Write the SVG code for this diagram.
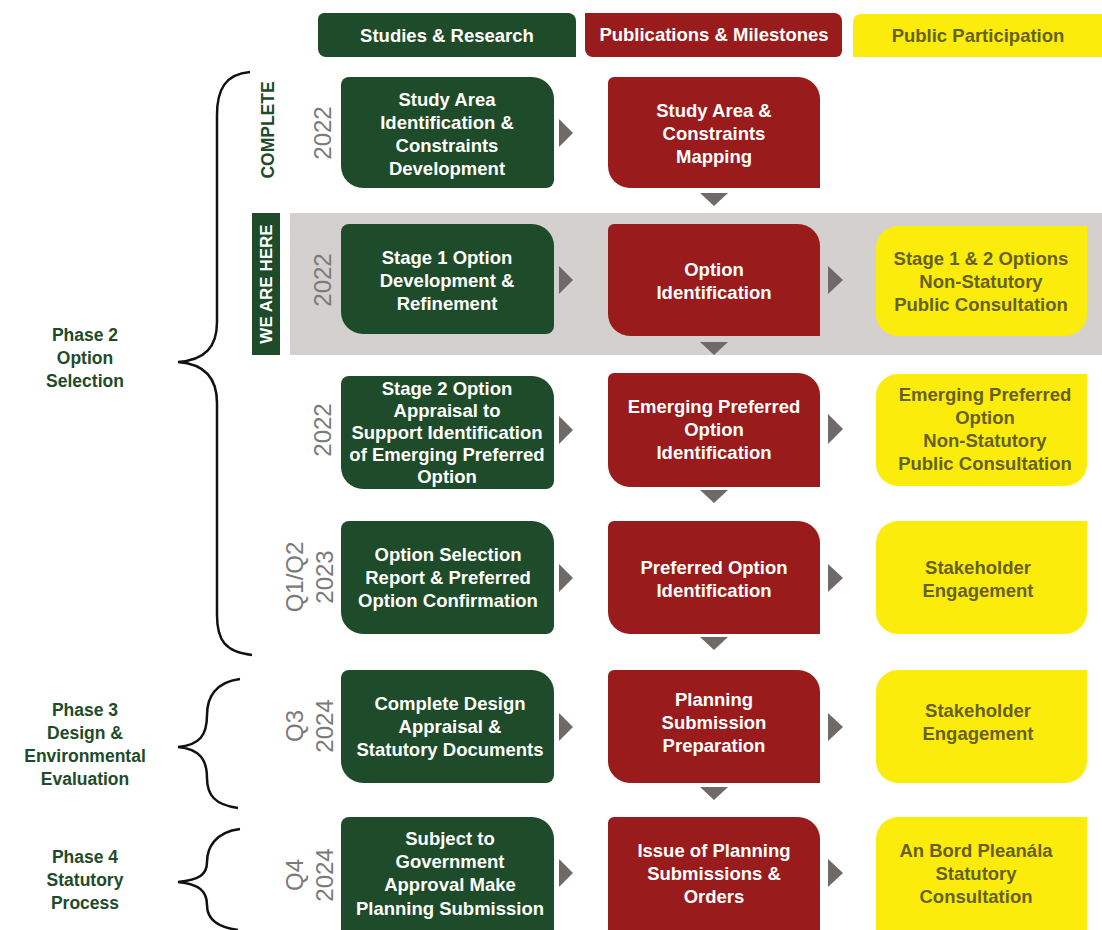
<svg xmlns="http://www.w3.org/2000/svg" width="1102" height="930" viewBox="0 0 1102 930">
<style>
text{font-family:"Liberation Sans",Arial,sans-serif;font-weight:bold;text-anchor:middle}
.g{fill:#1e4b29}.r{fill:#9a1b1b}.y{fill:#fcec0c}
.wt{fill:#ffffff;font-size:18.5px}
.yt{fill:#66611f;font-size:18.5px}
.ht{font-size:18.5px}
.yr{fill:#7a7a7a;font-weight:normal;font-size:24px}
.ph{fill:#1e4b29;font-size:17.5px}
.arr{fill:#6f6a67}
.br{fill:none;stroke:#111;stroke-width:2.5}
</style>
<rect width="1102" height="930" fill="#ffffff"/>

<g id="headers">
<path class="g" d="M324,13 H568 A8 8 0 0 1 576,21 V57 H326 A8 8 0 0 1 318,49 V19 A6 6 0 0 1 324,13 Z"/>
<text class="wt ht" x="447" y="42">Studies &amp; Research</text>
<path class="r" d="M585,13 H834 A8 8 0 0 1 842,21 V51 A6 6 0 0 1 836,57 H593 A8 8 0 0 1 585,49 Z"/>
<text class="wt ht" x="714" y="41">Publications &amp; Milestones</text>
<path class="y" d="M861,14 H1102 V57 H853 V22 A8 8 0 0 1 861,14 Z"/>
<text class="yt ht" x="978" y="42">Public Participation</text>
</g>

<g id="band">
<rect x="290" y="213" width="812" height="142" fill="#d3d0cd"/>
<rect x="252" y="213" width="28" height="142" fill="#1e4b29"/>
<text transform="translate(266,284) rotate(-90)" dominant-baseline="central" fill="#ffffff" font-size="17">WE ARE HERE</text>
<text transform="translate(268,130) rotate(-90)" dominant-baseline="central" fill="#1e4b29" font-size="17.5">COMPLETE</text>
</g>

<g id="phases">
<path class="br" d="M250,72 C225,74 217,90 217,115 L217,322 C217,347 205,360 178,362 C205,364 217,378 217,403 L217,615 C217,640 225,652 252,655"/>
<text class="ph"><tspan x="85" y="341">Phase 2</tspan><tspan x="85" y="364">Option</tspan><tspan x="85" y="387">Selection</tspan></text>
<path class="br" d="M240,679 C215,682 207,698 207,715 C207,735 200,745 178,747 C200,749 207,760 207,778 C207,795 215,805 238,808"/>
<text class="ph"><tspan x="85" y="716">Phase 3</tspan><tspan x="85" y="739">Design &amp;</tspan><tspan x="85" y="762">Environmental</tspan><tspan x="85" y="785">Evaluation</tspan></text>
<path class="br" d="M240,829 C215,832 207,848 207,862 C207,874 200,880 178,882 C200,884 207,892 207,905 C207,918 215,927 238,930"/>
<text class="ph"><tspan x="85" y="863">Phase 4</tspan><tspan x="85" y="886">Statutory</tspan><tspan x="85" y="909">Process</tspan></text>
</g>

<g id="years">
<text class="yr" transform="translate(322,133) rotate(-90)" dominant-baseline="central">2022</text>
<text class="yr" transform="translate(322,280) rotate(-90)" dominant-baseline="central">2022</text>
<text class="yr" transform="translate(322,430) rotate(-90)" dominant-baseline="central">2022</text>
<text class="yr" transform="translate(310,577) rotate(-90)"><tspan x="0" y="-7">Q1/Q2</tspan><tspan x="0" y="23">2023</tspan></text>
<text class="yr" transform="translate(310,726) rotate(-90)"><tspan x="0" y="-7">Q3</tspan><tspan x="0" y="23">2024</tspan></text>
<text class="yr" transform="translate(310,875) rotate(-90)"><tspan x="0" y="-7">Q4</tspan><tspan x="0" y="23">2024</tspan></text>
</g>

<g id="row1">
<g id="n-study-area-dev">
<path class="g" d="M349,77 H532 A22 22 0 0 1 554,99 V180 A8 8 0 0 1 546,188 H363 A22 22 0 0 1 341,166 V85 A8 8 0 0 1 349,77 Z"/>
<text class="wt"><tspan x="447" y="106">Study Area</tspan><tspan x="447" y="129">Identification &amp;</tspan><tspan x="447" y="152">Constraints</tspan><tspan x="447" y="175">Development</tspan></text>
</g>
<g id="n-study-area-map">
<path class="r" d="M614,77 H798 A22 22 0 0 1 820,99 V188 H630 A22 22 0 0 1 608,166 V83 A6 6 0 0 1 614,77 Z"/>
<text class="wt"><tspan x="714" y="117">Study Area &amp;</tspan><tspan x="714" y="140">Constraints</tspan><tspan x="714" y="163">Mapping</tspan></text>
</g>
</g>

<g id="row2">
<g id="n-stage1">
<path class="g" d="M349,224 H532 A22 22 0 0 1 554,246 V326 A8 8 0 0 1 546,334 H363 A22 22 0 0 1 341,312 V232 A8 8 0 0 1 349,224 Z"/>
<text class="wt"><tspan x="447" y="264">Stage 1 Option</tspan><tspan x="447" y="287">Development &amp;</tspan><tspan x="447" y="310">Refinement</tspan></text>
</g>
<g id="n-option-id">
<path class="r" d="M614,224 H798 A22 22 0 0 1 820,246 V336 H630 A22 22 0 0 1 608,314 V230 A6 6 0 0 1 614,224 Z"/>
<text class="wt"><tspan x="714" y="276">Option</tspan><tspan x="714" y="299">Identification</tspan></text>
</g>
<g id="n-stage12-consult">
<path class="y" d="M898,226 H1087 V314 A22 22 0 0 1 1065,336 H898 A22 22 0 0 1 876,314 V248 A22 22 0 0 1 898,226 Z"/>
<text class="yt"><tspan x="981" y="265">Stage 1 &amp; 2 Options</tspan><tspan x="981" y="288">Non-Statutory</tspan><tspan x="981" y="311">Public Consultation</tspan></text>
</g>
</g>

<g id="row3">
<g id="n-stage2">
<path class="g" d="M349,376 H532 A22 22 0 0 1 554,398 V481 A8 8 0 0 1 546,489 H363 A22 22 0 0 1 341,467 V384 A8 8 0 0 1 349,376 Z"/>
<text class="wt"><tspan x="447" y="395">Stage 2 Option</tspan><tspan x="447" y="417">Appraisal to</tspan><tspan x="447" y="439">Support Identification</tspan><tspan x="447" y="461">of Emerging Preferred</tspan><tspan x="447" y="483">Option</tspan></text>
</g>
<g id="n-epo-id">
<path class="r" d="M614,373 H798 A22 22 0 0 1 820,395 V487 H630 A22 22 0 0 1 608,465 V379 A6 6 0 0 1 614,373 Z"/>
<text class="wt"><tspan x="714" y="413">Emerging Preferred</tspan><tspan x="714" y="436">Option</tspan><tspan x="714" y="459">Identification</tspan></text>
</g>
<g id="n-epo-consult">
<path class="y" d="M898,374 H1087 V464 A22 22 0 0 1 1065,486 H898 A22 22 0 0 1 876,464 V396 A22 22 0 0 1 898,374 Z"/>
<text class="yt"><tspan x="985" y="401">Emerging Preferred</tspan><tspan x="985" y="424">Option</tspan><tspan x="985" y="447">Non-Statutory</tspan><tspan x="985" y="470">Public Consultation</tspan></text>
</g>
</g>

<g id="row4">
<g id="n-osr">
<path class="g" d="M349,521 H532 A22 22 0 0 1 554,543 V626 A8 8 0 0 1 546,634 H363 A22 22 0 0 1 341,612 V529 A8 8 0 0 1 349,521 Z"/>
<text class="wt"><tspan x="448" y="561">Option Selection</tspan><tspan x="448" y="584">Report &amp; Preferred</tspan><tspan x="448" y="607">Option Confirmation</tspan></text>
</g>
<g id="n-po-id">
<path class="r" d="M614,521 H798 A22 22 0 0 1 820,543 V634 H630 A22 22 0 0 1 608,612 V527 A6 6 0 0 1 614,521 Z"/>
<text class="wt"><tspan x="714" y="574">Preferred Option</tspan><tspan x="714" y="597">Identification</tspan></text>
</g>
<g id="n-stake1">
<path class="y" d="M898,521 H1087 V612 A22 22 0 0 1 1065,634 H898 A22 22 0 0 1 876,612 V543 A22 22 0 0 1 898,521 Z"/>
<text class="yt"><tspan x="978" y="574">Stakeholder</tspan><tspan x="978" y="597">Engagement</tspan></text>
</g>
</g>

<g id="row5">
<g id="n-design">
<path class="g" d="M349,670 H532 A22 22 0 0 1 554,692 V775 A8 8 0 0 1 546,783 H363 A22 22 0 0 1 341,761 V678 A8 8 0 0 1 349,670 Z"/>
<text class="wt"><tspan x="450" y="710">Complete Design</tspan><tspan x="450" y="733">Appraisal &amp;</tspan><tspan x="450" y="756">Statutory Documents</tspan></text>
</g>
<g id="n-planning-prep">
<path class="r" d="M614,670 H798 A22 22 0 0 1 820,692 V783 H630 A22 22 0 0 1 608,761 V676 A6 6 0 0 1 614,670 Z"/>
<text class="wt"><tspan x="714" y="706">Planning</tspan><tspan x="714" y="729">Submission</tspan><tspan x="714" y="752">Preparation</tspan></text>
</g>
<g id="n-stake2">
<path class="y" d="M898,670 H1087 V761 A22 22 0 0 1 1065,783 H898 A22 22 0 0 1 876,761 V692 A22 22 0 0 1 898,670 Z"/>
<text class="yt"><tspan x="978" y="717">Stakeholder</tspan><tspan x="978" y="740">Engagement</tspan></text>
</g>
</g>

<g id="row6">
<g id="n-subject">
<path class="g" d="M349,817 H532 A22 22 0 0 1 554,839 V940 H341 V825 A8 8 0 0 1 349,817 Z"/>
<text class="wt"><tspan x="450" y="845">Subject to</tspan><tspan x="450" y="868">Government</tspan><tspan x="450" y="891">Approval Make</tspan><tspan x="450" y="915">Planning Submission</tspan></text>
</g>
<g id="n-issue">
<path class="r" d="M614,817 H798 A22 22 0 0 1 820,839 V940 H608 V823 A6 6 0 0 1 614,817 Z"/>
<text class="wt"><tspan x="714" y="857">Issue of Planning</tspan><tspan x="714" y="880">Submissions &amp;</tspan><tspan x="714" y="903">Orders</tspan></text>
</g>
<g id="n-abp">
<path class="y" d="M898,817 H1087 V940 H876 V839 A22 22 0 0 1 898,817 Z"/>
<text class="yt"><tspan x="976" y="857">An Bord Pleanála</tspan><tspan x="976" y="880">Statutory</tspan><tspan x="976" y="903">Consultation</tspan></text>
</g>
</g>

<g id="connectors">
<polygon class="arr" points="700,193 728,193 714,206"/>
<polygon class="arr" points="700,342 728,342 714,355"/>
<polygon class="arr" points="700,490 728,490 714,503"/>
<polygon class="arr" points="700,637 728,637 714,650"/>
<polygon class="arr" points="700,787 728,787 714,800"/>
<polygon class="arr" points="559,119 559,147 573,133"/>
<polygon class="arr" points="559,266 559,294 573,280"/>
<polygon class="arr" points="559,416 559,444 573,430"/>
<polygon class="arr" points="559,564 559,592 573,578"/>
<polygon class="arr" points="559,713 559,741 573,727"/>
<polygon class="arr" points="559,859 559,887 573,873"/>
<polygon class="arr" points="828,266 828,294 843,280"/>
<polygon class="arr" points="828,414 828,444 843,429"/>
<polygon class="arr" points="828,564 828,592 843,578"/>
<polygon class="arr" points="828,713 828,741 843,727"/>
<polygon class="arr" points="828,859 828,887 843,873"/>
</g>
</svg>
